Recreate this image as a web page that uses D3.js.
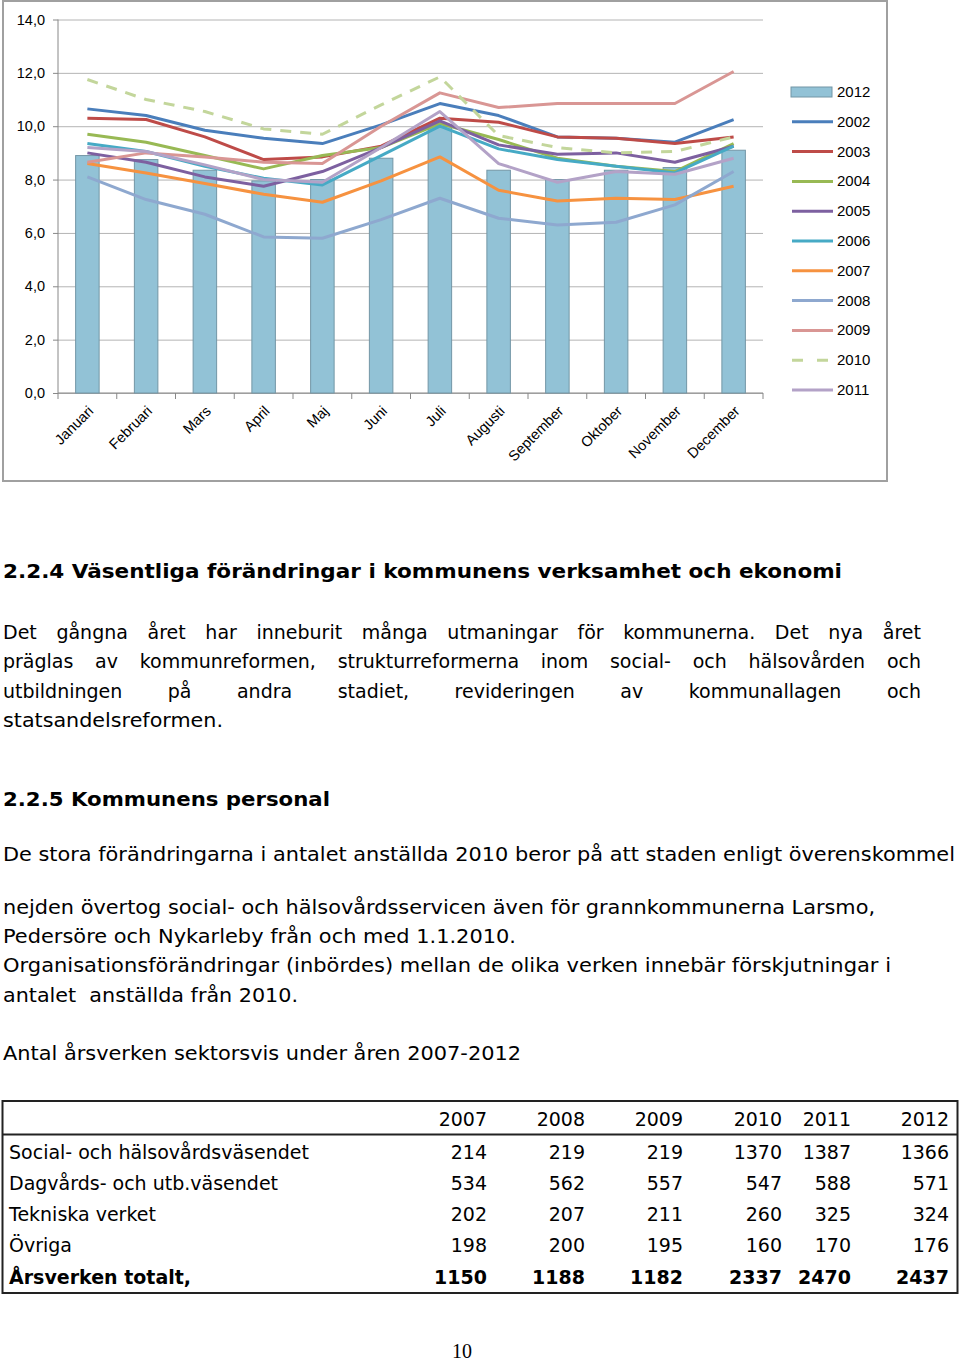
<!DOCTYPE html>
<meta charset="utf-8">
<title>Sjukfrånvaro per månad</title>
<style>

body {
  margin: 0;
  background: #fff;
}

svg {
  display: block;
}

.chart text {
  font: 14.5px "Liberation Sans", sans-serif;
  fill: #000;
}

.doc text {
  font-family: "DejaVu Sans", sans-serif;
  font-size: 19px;
  fill: #000;
}

</style>
<svg width="960" height="1361"></svg>
<script src="https://d3js.org/d3.v7.min.js"></script>
<script>

var months = ["Januari", "Februari", "Mars", "April", "Maj", "Juni", "Juli",
              "Augusti", "September", "Oktober", "November", "December"];

var yTicks = [0, 2, 4, 6, 8, 10, 12, 14];

// 2012 as bars
var v2012 = [8.9, 8.75, 8.35, 7.95, 8.0, 8.8, 10.0, 8.35, 8.0, 8.35, 8.45, 9.1];

// earlier years as lines
var v2002 = [10.65, 10.4, 9.85, 9.55, 9.35, 10.05, 10.85, 10.4, 9.6, 9.55, 9.4, 10.25];
var v2003 = [10.3, 10.25, 9.6, 8.75, 8.85, 9.25, 10.3, 10.15, 9.6, 9.55, 9.35, 9.6];
var v2004 = [9.7, 9.4, 8.9, 8.4, 8.9, 9.2, 10.1, 9.5, 8.8, 8.5, 8.3, 9.35];
var v2005 = [9.0, 8.65, 8.1, 7.75, 8.3, 9.2, 10.2, 9.3, 8.95, 9.0, 8.65, 9.25];
var v2006 = [9.35, 9.05, 8.5, 8.05, 7.8, 8.9, 10.0, 9.15, 8.75, 8.5, 8.25, 9.25];
var v2007 = [8.6, 8.25, 7.85, 7.45, 7.15, 7.95, 8.85, 7.6, 7.2, 7.3, 7.25, 7.75];
var v2008 = [8.1, 7.25, 6.7, 5.85, 5.8, 6.5, 7.3, 6.55, 6.3, 6.4, 7.05, 8.3];
var v2009 = [8.65, 9.0, 8.85, 8.65, 8.6, 10.0, 11.25, 10.7, 10.85, 10.85, 10.85, 12.05];
var v2010 = [11.75, 11.0, 10.55, 9.9, 9.7, 10.8, 11.85, 9.65, 9.2, 9.0, 9.05, 9.6];
var v2011 = [9.2, 9.05, 8.55, 8.0, 7.9, 9.2, 10.55, 8.6, 7.9, 8.3, 8.2, 8.8];

var lineYears = ["2002", "2003", "2004", "2005", "2006", "2007", "2008", "2009", "2010", "2011"];
var lineData = [v2002, v2003, v2004, v2005, v2006, v2007, v2008, v2009, v2010, v2011];
var lineColors = ["#4a7ebb", "#be4b48", "#98b954", "#7d60a0", "#46aac5",
                  "#f69240", "#8ea8cf", "#d99694", "#c3d69b", "#b3a2c7"];

// table
var tableYears = ["2007", "2008", "2009", "2010", "2011", "2012"];
var tableRows = ["Social- och hälsovårdsväsendet", "Dagvårds- och utb.väsendet",
                 "Tekniska verket", "Övriga", "Årsverken totalt,"];
var tSocial = [214, 219, 219, 1370, 1387, 1366];
var tDagvard = [534, 562, 557, 547, 588, 571];
var tTekniska = [202, 207, 211, 260, 325, 324];
var tOvriga = [198, 200, 195, 160, 170, 176];
var tTotalt = [1150, 1188, 1182, 2337, 2470, 2437];
var tableValues = [tSocial, tDagvard, tTekniska, tOvriga, tTotalt];

var svg = d3.select("svg");

/* ---------- chart ---------- */

var chart = svg.append("g").attr("class", "chart");

chart.append("rect")
    .attr("x", 3)
    .attr("y", 1)
    .attr("width", 884)
    .attr("height", 480)
    .attr("fill", "#fff")
    .attr("stroke", "#a0a0a0")
    .attr("stroke-width", 2);

var plotLeft = 58, plotRight = 763;

var x = d3.scaleBand()
    .domain(months)
    .range([plotLeft, plotRight])
    .paddingInner(0.6)
    .paddingOuter(0.3);

var y = d3.scaleLinear()
    .domain([0, 14])
    .range([393, 19.5]);

var fmt = function(d) { return d3.format(".1f")(d).replace(".", ","); };

var gy = chart.append("g")
    .attr("transform", "translate(" + plotLeft + ",0)")
    .call(d3.axisLeft(y)
      .tickValues(yTicks)
      .tickSize(-(plotRight - plotLeft))
      .tickPadding(13)
      .tickFormat(fmt));

gy.select(".domain").remove();
gy.selectAll(".tick line").attr("stroke", "#b4b4b4");
gy.selectAll(".tick text").attr("fill", "#000").style("font-size", "14.5px")
    .style("font-family", "'Liberation Sans', sans-serif");

// small outside ticks on the value axis
gy.selectAll(".tick").append("line")
    .attr("x1", -5).attr("x2", 0)
    .attr("stroke", "#888");

chart.append("line")
    .attr("x1", plotLeft).attr("x2", plotLeft)
    .attr("y1", y(14)).attr("y2", y(0))
    .attr("stroke", "#888");

// category axis
var step = x.step();
var bounds = months.map(function(m) { return x(m) - x.paddingInner() * step / 2; });
bounds.push(plotRight);

chart.append("line")
    .attr("x1", plotLeft).attr("x2", plotRight)
    .attr("y1", y(0)).attr("y2", y(0))
    .attr("stroke", "#888");

chart.selectAll(".xtick")
    .data(bounds)
  .enter().append("line")
    .attr("class", "xtick")
    .attr("x1", function(d) { return d; })
    .attr("x2", function(d) { return d; })
    .attr("y1", y(0))
    .attr("y2", y(0) + 6)
    .attr("stroke", "#888");

chart.selectAll(".xlabel")
    .data(months)
  .enter().append("text")
    .attr("class", "xlabel")
    .attr("text-anchor", "end")
    .attr("transform", function(d) {
      return "translate(" + (x(d) + x.bandwidth() / 2 + 7) + "," + (y(0) + 19) + ") rotate(-45)";
    })
    .text(function(d) { return d; });

// bars (2012)
chart.selectAll(".bar")
    .data(v2012)
  .enter().append("rect")
    .attr("class", "bar")
    .attr("x", function(d, i) { return x(months[i]); })
    .attr("width", x.bandwidth())
    .attr("y", function(d) { return y(d); })
    .attr("height", function(d) { return y(0) - y(d); })
    .attr("fill", "#92c2d6")
    .attr("stroke", "#7396a6")
    .attr("stroke-width", 1);

var line = d3.line()
    .x(function(d, i) { return x(months[i]) + x.bandwidth() / 2; })
    .y(function(d) { return y(d); });

chart.selectAll(".series")
    .data(lineData)
  .enter().append("path")
    .attr("class", "series")
    .attr("d", line)
    .attr("fill", "none")
    .attr("stroke", function(d, i) { return lineColors[i]; })
    .attr("stroke-width", 3)
    .attr("stroke-linejoin", "round")
    .attr("stroke-dasharray", function(d, i) { return lineYears[i] == "2010" ? "11,9" : null; });

// legend
var legend = chart.append("g").attr("transform", "translate(791,92)");
var rowH = 29.8;

legend.append("rect")
    .attr("x", 0).attr("y", -5)
    .attr("width", 41).attr("height", 10)
    .attr("fill", "#92c2d6")
    .attr("stroke", "#7396a6");

legend.append("text")
    .attr("x", 46).attr("y", 5)
    .style("font-size", "15px")
    .text("2012");

var li = legend.selectAll(".li")
    .data(lineYears)
  .enter().append("g")
    .attr("class", "li")
    .attr("transform", function(d, i) { return "translate(0," + (rowH * (i + 1)) + ")"; });

li.append("line")
    .attr("x1", 1).attr("x2", 42)
    .attr("stroke", function(d, i) { return lineColors[i]; })
    .attr("stroke-width", 3)
    .attr("stroke-dasharray", function(d) { return d == "2010" ? "11,14" : null; });

li.append("text")
    .attr("x", 46).attr("y", 5)
    .style("font-size", "15px")
    .text(function(d) { return d; });

/* ---------- document text ---------- */

var doc = svg.append("g").attr("class", "doc");

var lines = [
  {t: "2.2.4 Väsentliga förändringar i kommunens verksamhet och ekonomi", y: 578, w: 839, bold: true},
  {t: "Det gångna året har inneburit många utmaningar för kommunerna. Det nya året", y: 639, w: 918, justify: true},
  {t: "präglas av kommunreformen, strukturreformerna inom social- och hälsovården och", y: 668, w: 918, justify: true},
  {t: "utbildningen på andra stadiet, revideringen av kommunallagen och", y: 698, w: 918, justify: true},
  {t: "statsandelsreformen.", y: 727, w: 220},
  {t: "2.2.5 Kommunens personal", y: 806, w: 327, bold: true},
  {t: "De stora förändringarna i antalet anställda 2010 beror på att staden enligt överenskommel", y: 861, w: 952},
  {t: "nejden övertog social- och hälsovårdsservicen även för grannkommunerna Larsmo,", y: 914, w: 872},
  {t: "Pedersöre och Nykarleby från och med 1.1.2010.", y: 943, w: 513},
  {t: "Organisationsförändringar (inbördes) mellan de olika verken innebär förskjutningar i", y: 972, w: 888},
  {t: "antalet  anställda från 2010.", y: 1002, w: 295},
  {t: "Antal årsverken sektorsvis under åren 2007-2012", y: 1060, w: 518}
];

lines.forEach(function(l) {
  if (l.justify) {
    var words = l.t.split(" ");
    var nodes = words.map(function(w) {
      return doc.append("text").attr("y", l.y).text(w);
    });
    var widths = nodes.map(function(n) { return n.node().getComputedTextLength(); });
    var gap = (l.w - d3.sum(widths)) / (words.length - 1);
    var cx = 3;
    nodes.forEach(function(n, i) {
      n.attr("x", cx);
      cx += widths[i] + gap;
    });
  } else {
    doc.append("text")
        .attr("x", 3)
        .attr("y", l.y)
        .attr("textLength", l.w)
        .attr("lengthAdjust", "spacingAndGlyphs")
        .style("font-weight", l.bold ? "bold" : null)
        .style("font-size", l.bold ? "20px" : null)
        .style("white-space", "pre")
        .text(l.t);
  }
});

/* ---------- table ---------- */

var table = svg.append("g").attr("class", "doc");
var colEnds = [487, 585, 683, 782, 851, 949];
var rowY = [1126, 1159, 1190, 1221, 1252, 1284];

table.append("rect")
    .attr("x", 2.5).attr("y", 1101)
    .attr("width", 955).attr("height", 192)
    .attr("fill", "none")
    .attr("stroke", "#222")
    .attr("stroke-width", 2);

table.append("line")
    .attr("x1", 2).attr("x2", 958)
    .attr("y1", 1134.5).attr("y2", 1134.5)
    .attr("stroke", "#222")
    .attr("stroke-width", 2);

table.selectAll(".th")
    .data(tableYears)
  .enter().append("text")
    .attr("class", "th")
    .attr("x", function(d, i) { return colEnds[i]; })
    .attr("y", rowY[0])
    .attr("text-anchor", "end")
    .text(function(d) { return d; });

var tr = table.selectAll(".tr")
    .data(tableRows)
  .enter().append("g")
    .attr("class", "tr")
    .style("font-weight", function(d, i) { return i == tableRows.length - 1 ? "bold" : null; });

tr.append("text")
    .attr("x", 9)
    .attr("y", function(d, i) { return rowY[i + 1]; })
    .text(function(d) { return d; });

tr.selectAll(".td")
    .data(function(d, i) { return tableValues[i].map(function(v) { return {v: v, r: i}; }); })
  .enter().append("text")
    .attr("class", "td")
    .attr("x", function(d, j) { return colEnds[j]; })
    .attr("y", function(d) { return rowY[d.r + 1]; })
    .attr("text-anchor", "end")
    .text(function(d) { return d.v; });

// page number
svg.append("text")
    .attr("x", 462)
    .attr("y", 1358)
    .attr("text-anchor", "middle")
    .style("font", "20px 'Liberation Serif', serif")
    .text("10");

</script>
